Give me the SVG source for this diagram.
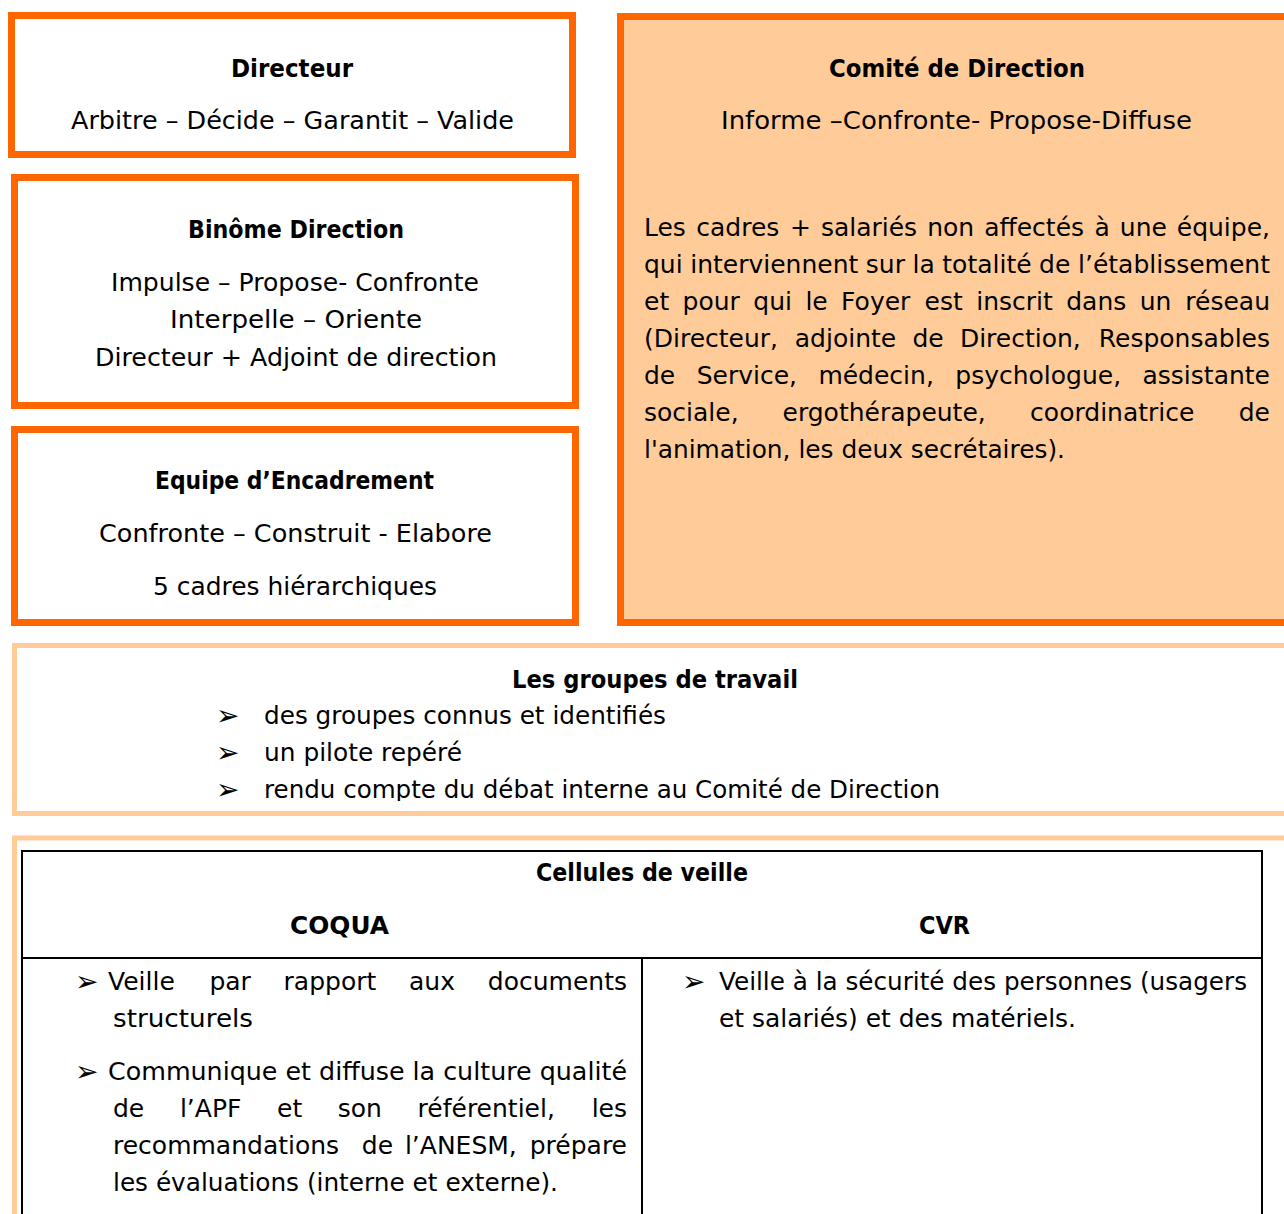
<svg xmlns="http://www.w3.org/2000/svg" width="1284" height="1214" viewBox="0 0 1284 1214">
<style>
.t{font-family:'DejaVu Sans','Liberation Sans',sans-serif;font-size:25px;fill:#000}
.b{font-weight:bold}
.e{text-anchor:end}
.bu{font-size:28px}
.ob{fill:#fff;stroke:#FF6600;stroke-width:7}
.lb{fill:#fff;stroke:#FFCC99;stroke-width:5}
.tl{fill:none;stroke:#000;stroke-width:2}
</style>
<defs>
<clipPath id="gclip"><rect x="0" y="640" width="1284" height="161"/></clipPath>
</defs>
<rect width="1284" height="1214" fill="#fff"/>

<g id="directeur">
<rect class="ob" x="11.5" y="15.5" width="561" height="139"/>
<text class="t b" x="231" y="77" textLength="122" lengthAdjust="spacingAndGlyphs">Directeur</text>
<text class="t" x="71" y="129" textLength="443" lengthAdjust="spacingAndGlyphs">Arbitre – Décide – Garantit – Valide</text>
</g>

<g id="binome">
<rect class="ob" x="14.5" y="177.5" width="561" height="228"/>
<text class="t b" x="188" y="238" textLength="216" lengthAdjust="spacingAndGlyphs">Binôme Direction</text>
<text class="t" x="111" y="291" textLength="368" lengthAdjust="spacingAndGlyphs">Impulse – Propose- Confronte</text>
<text class="t" x="170" y="328" textLength="252" lengthAdjust="spacingAndGlyphs">Interpelle – Oriente</text>
<text class="t" x="95" y="366" textLength="402" lengthAdjust="spacingAndGlyphs">Directeur + Adjoint de direction</text>
</g>

<g id="equipe">
<rect class="ob" x="14.5" y="429.5" width="561" height="193"/>
<text class="t b" x="155" y="489" textLength="279" lengthAdjust="spacingAndGlyphs">Equipe d’Encadrement</text>
<text class="t" x="99" y="542" textLength="393" lengthAdjust="spacingAndGlyphs">Confronte – Construit - Elabore</text>
<text class="t" x="153" y="595" textLength="284" lengthAdjust="spacingAndGlyphs">5 cadres hiérarchiques</text>
</g>

<g id="comite">
<rect x="620.5" y="16.5" width="700" height="606" fill="#FFCC99" stroke="#FF6600" stroke-width="7"/>
<text class="t b" x="829" y="77" textLength="256" lengthAdjust="spacingAndGlyphs">Comité de Direction</text>
<text class="t" x="721" y="129" textLength="471" lengthAdjust="spacingAndGlyphs">Informe –Confronte- Propose-Diffuse</text>
<text class="t" y="236"><tspan x="644">Les</tspan><tspan x="696.3">cadres</tspan><tspan x="789.9">+</tspan><tspan x="820.9">salariés</tspan><tspan x="927.2">non</tspan><tspan x="984.2">affectés</tspan><tspan x="1094.5">à</tspan><tspan x="1119.8">une</tspan></text>
<text class="t e" x="1270" y="236">équipe,</text>
<text class="t" y="273"><tspan x="644">qui</tspan><tspan x="690.2">interviennent</tspan><tspan x="865.8">sur</tspan><tspan x="912.5">la</tspan><tspan x="942.3">totalité</tspan><tspan x="1039.1">de</tspan></text>
<text class="t e" x="1270" y="273">l’établissement</text>
<text class="t" y="310"><tspan x="644">et</tspan><tspan x="682.6">pour</tspan><tspan x="753.3">qui</tspan><tspan x="805.4">le</tspan><tspan x="841.1">Foyer</tspan><tspan x="924.6">est</tspan><tspan x="976.2">inscrit</tspan><tspan x="1066.2">dans</tspan><tspan x="1139.7">un</tspan></text>
<text class="t e" x="1270" y="310">réseau</text>
<text class="t" y="347"><tspan x="644">(Directeur,</tspan><tspan x="794.8">adjointe</tspan><tspan x="912.4">de</tspan><tspan x="959.9">Direction,</tspan></text>
<text class="t e" x="1270" y="347">Responsables</text>
<text class="t" y="384"><tspan x="644">de</tspan><tspan x="696.7">Service,</tspan><tspan x="818.4">médecin,</tspan><tspan x="955.3">psychologue,</tspan></text>
<text class="t e" x="1270" y="384">assistante</text>
<text class="t" y="421"><tspan x="644">sociale,</tspan><tspan x="782.5">ergothérapeute,</tspan><tspan x="1030.1">coordinatrice</tspan></text>
<text class="t e" x="1270" y="421">de</text>
<text class="t" x="644" y="458" textLength="421" lengthAdjust="spacingAndGlyphs">l'animation, les deux secrétaires).</text>
</g>

<g id="groupes">
<rect class="lb" x="14.5" y="645.5" width="1300" height="168"/>
<text class="t b" x="512" y="688" textLength="286" lengthAdjust="spacingAndGlyphs">Les groupes de travail</text>
<g clip-path="url(#gclip)">
<text class="t bu" x="216" y="725">➢</text>
<text class="t" x="264" y="724" textLength="402" lengthAdjust="spacingAndGlyphs">des groupes connus et identifiés</text>
<text class="t bu" x="216" y="762">➢</text>
<text class="t" x="264" y="761" textLength="198" lengthAdjust="spacingAndGlyphs">un pilote repéré</text>
<text class="t bu" x="216" y="799">➢</text>
<text class="t" x="264" y="798" textLength="676" lengthAdjust="spacingAndGlyphs">rendu compte du débat interne au Comité de Direction</text>
</g>
</g>

<g id="cellules">
<rect class="lb" x="14.5" y="838" width="1300" height="500"/>
<rect class="tl" x="22" y="851" width="1240" height="500"/>
<line class="tl" x1="22" y1="958" x2="1262" y2="958"/>
<line class="tl" x1="642" y1="958" x2="642" y2="1214"/>
<text class="t b" x="536" y="881" textLength="212" lengthAdjust="spacingAndGlyphs">Cellules de veille</text>
<text class="t b" x="290" y="934" textLength="99" lengthAdjust="spacingAndGlyphs">COQUA</text>
<text class="t b" x="919" y="934" textLength="51" lengthAdjust="spacingAndGlyphs">CVR</text>
<text class="t bu" x="75" y="991">➢</text>
<text class="t" y="990"><tspan x="108">Veille</tspan><tspan x="209.4">par</tspan><tspan x="283.6">rapport</tspan><tspan x="409">aux</tspan></text>
<text class="t e" x="627" y="990">documents</text>
<text class="t" x="113" y="1027" textLength="140" lengthAdjust="spacingAndGlyphs">structurels</text>
<text class="t bu" x="75" y="1081">➢</text>
<text class="t" x="108" y="1080" textLength="519" lengthAdjust="spacingAndGlyphs">Communique et diffuse la culture qualité</text>
<text class="t" y="1117"><tspan x="113">de</tspan><tspan x="179.9">l’APF</tspan><tspan x="277">et</tspan><tspan x="337.8">son</tspan><tspan x="417.6">référentiel,</tspan></text>
<text class="t e" x="627" y="1117">les</text>
<text class="t" y="1154"><tspan x="113">recommandations</tspan><tspan x="361.8">de</tspan><tspan x="404.9">l’ANESM,</tspan></text>
<text class="t e" x="627" y="1154">prépare</text>
<text class="t" x="113" y="1191" textLength="445" lengthAdjust="spacingAndGlyphs">les évaluations (interne et externe).</text>
<text class="t bu" x="682" y="991">➢</text>
<text class="t" x="719" y="990" textLength="528" lengthAdjust="spacingAndGlyphs">Veille à la sécurité des personnes (usagers</text>
<text class="t" x="719" y="1027" textLength="357" lengthAdjust="spacingAndGlyphs">et salariés) et des matériels.</text>
</g>
</svg>
